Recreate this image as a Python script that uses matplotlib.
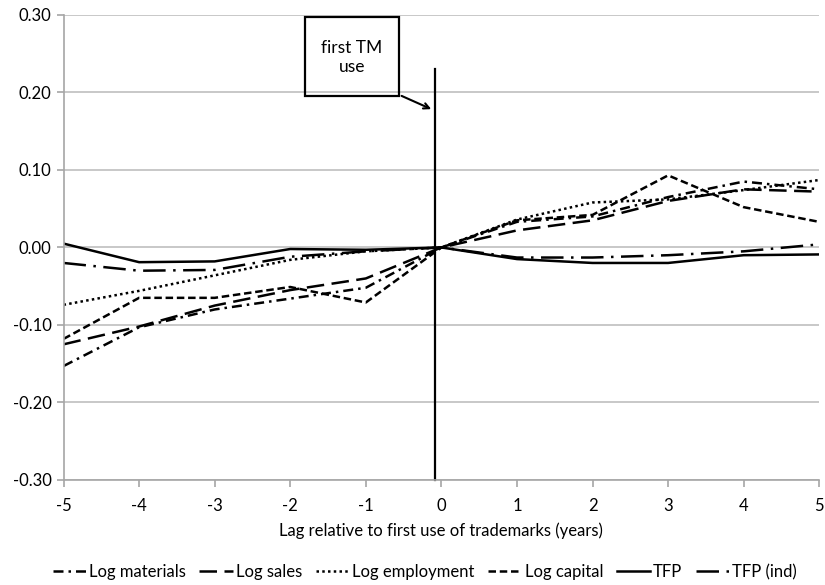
import matplotlib.pyplot as plt
import matplotlib.patches as patches

plt.rcParams['font.family'] = ['Lato', 'DejaVu Sans']

lags = [-5, -4, -3, -2, -1, 0, 1, 2, 3, 4, 5]
log_materials = [-0.153, -0.103, -0.080, -0.066, -0.052, 0.0, 0.033, 0.040, 0.065, 0.085, 0.075]
log_sales = [-0.125, -0.102, -0.075, -0.055, -0.040, 0.0, 0.022, 0.035, 0.060, 0.075, 0.072]
log_employment = [-0.074, -0.056, -0.036, -0.016, -0.005, 0.0, 0.036, 0.058, 0.062, 0.074, 0.087]
log_capital = [-0.118, -0.065, -0.065, -0.051, -0.071, 0.0, 0.035, 0.042, 0.093, 0.052, 0.033]
tfp = [0.005, -0.019, -0.018, -0.002, -0.003, 0.0, -0.015, -0.020, -0.020, -0.010, -0.009]
tfp_ind = [-0.020, -0.030, -0.029, -0.012, -0.005, 0.0, -0.013, -0.013, -0.010, -0.005, 0.004]

fig = plt.figure(figsize=(8.25, 5.85), dpi=100)
ax = fig.add_axes([0.077, 0.1795, 0.916, 0.795])

lw = 1.8
ax.plot(lags, log_materials, color='black', lw=lw, linestyle=(0, (4, 2, 1, 2)), label='Log materials')
ax.plot(lags, log_sales, color='black', lw=lw, linestyle=(0, (7, 3)), label='Log sales')
ax.plot(lags, log_employment, color='black', lw=lw, linestyle=(0, (1, 1.3)), label='Log employment')
ax.plot(lags, log_capital, color='black', lw=lw, linestyle=(0, (3, 1.5)), label='Log capital')
ax.plot(lags, tfp, color='black', lw=lw, linestyle='-', label='TFP')
ax.plot(lags, tfp_ind, color='black', lw=lw, linestyle=(0, (9, 3, 1, 3)), label='TFP (ind)')

ax.set_xlim(-5, 5)
ax.set_ylim(-0.30, 0.30)
ax.set_xticks(lags)
ax.set_xticklabels([str(v) for v in lags])
yt = [-0.30, -0.20, -0.10, 0.00, 0.10, 0.20, 0.30]
ax.set_yticks(yt)
ax.set_yticklabels(['%.2f' % v for v in yt])
ax.yaxis.grid(True, color='#bfbfbf', lw=1.2)
ax.set_axisbelow(True)
for s in ['top', 'right']:
    ax.spines[s].set_visible(False)
for s in ['left', 'bottom']:
    ax.spines[s].set_color('#a6a6a6')
    ax.spines[s].set_linewidth(1.2)
ax.tick_params(axis='both', colors='#a6a6a6', length=5, width=1.2, labelsize=12, labelcolor='black')
ax.tick_params(axis='x', pad=8)
ax.set_xlabel('Lag relative to first use of trademarks (years)', fontsize=12, labelpad=6)

# marker for first trademark use
ax.plot([-0.086, -0.086], [-0.30, 0.230], color='black', lw=1.6, clip_on=False)
box = patches.Rectangle((-1.81, 0.195), 1.25, 0.102, fill=False, edgecolor='black', lw=1.6, clip_on=False)
ax.add_patch(box)
ax.text(-1.185, 0.245, 'first TM\nuse', ha='center', va='center', fontsize=12.5, linespacing=1.3)
ax.annotate('', xy=(-0.10, 0.177), xytext=(-0.56, 0.197),
            arrowprops=dict(arrowstyle='->', color='black', lw=1.5))

fig.legend(loc='center', bbox_to_anchor=(0.515, 0.022), ncol=6, frameon=False, fontsize=12,
           handlelength=2.0, handletextpad=0.2, columnspacing=0.8)

fig.savefig('out.png', dpi=100)
